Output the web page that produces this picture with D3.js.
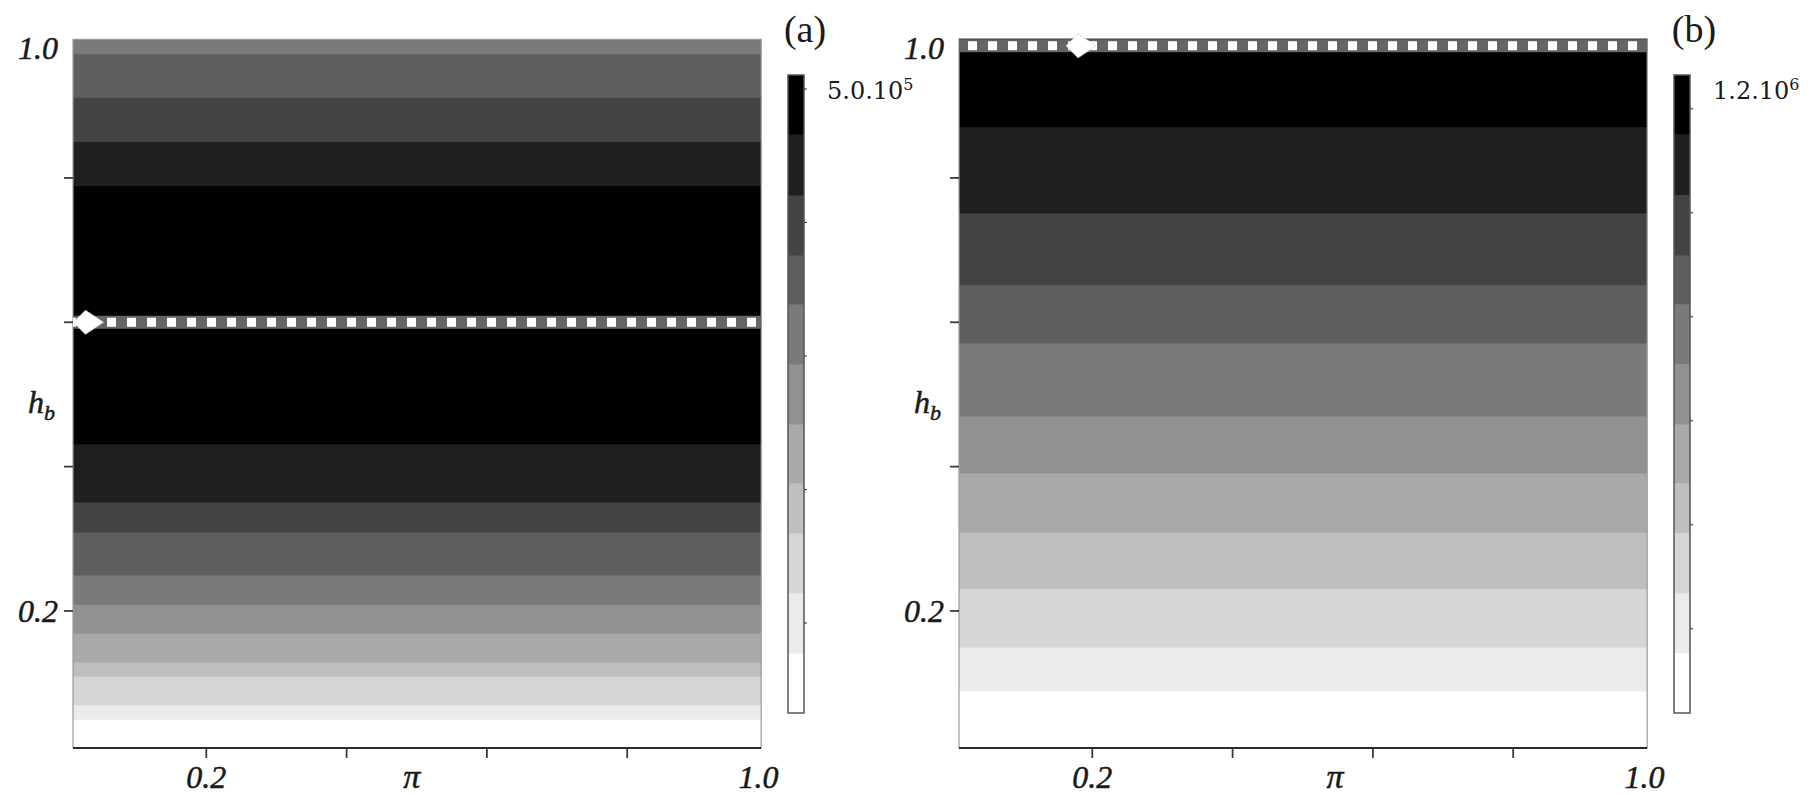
<!DOCTYPE html>
<html>
<head>
<meta charset="utf-8">
<script src="https://cdn.jsdelivr.net/npm/d3@7/dist/d3.min.js"></script>
<style>
  html, body { margin: 0; padding: 0; background: #ffffff; }
  svg { display: block; }
  .ax { font-family: "Liberation Serif", "DejaVu Serif", serif; font-style: italic; fill: #1a1a1a; stroke: #1a1a1a; stroke-width: 0.5; }
  .cb { font-family: "DejaVu Serif", "Liberation Serif", serif; fill: #1a1a1a; }
  .tag { font-family: "Liberation Serif", "DejaVu Serif", serif; fill: #1a1a1a; }
</style>
</head>
<body>
<svg id="chart" width="1816" height="795"></svg>
<script>
// ---------------- data ----------------
const grayLevels = ["#000000", "#1f1f1f", "#434343", "#5e5e5e", "#7a7a7a", "#919191",
                    "#a9a9a9", "#bebebe", "#d6d6d6", "#ebebeb", "#ffffff"];

const xTicks = [0.2, 0.4, 0.6, 0.8];
const yTicks = [0.2, 0.4, 0.6, 0.8];
const xTickLabels = [{ v: 0.2, t: "0.2" }, { v: 1.0, t: "1.0" }];
const yTickLabels = [{ v: 0.2, t: "0.2" }, { v: 1.0, t: "1.0" }];

// panel (a): horizontal contour bands in h_b (lower edge list) and grey level index
const bandEdgesA = [0.010, 0.050, 0.070, 0.110, 0.129, 0.169, 0.209, 0.250, 0.309, 0.351,
                    0.431, 0.790, 0.851, 0.912, 0.972, 0.992];
const bandLevelsA = [10, 9, 8, 7, 6, 5, 4, 3, 2, 1, 0, 1, 2, 3, 4];

// panel (b)
const bandEdgesB = [0.010, 0.089, 0.150, 0.231, 0.309, 0.391, 0.470, 0.571, 0.652, 0.751,
                    0.871, 0.993];
const bandLevelsB = [10, 9, 8, 7, 6, 5, 4, 3, 2, 1, 0];

// optimum lines / markers
const optimumA = { x: 0.032, h: 0.600 };
const optimumB = { x: 0.184, h: 0.983 };
const piLabelA = 0.493;
const piLabelB = 0.546;

// colour bars (value edges bottom -> top, grey level index per band)
const cbEdgesA = [3.26e4, 7.75e4, 1.225e5, 1.674e5, 2.049e5, 2.491e5, 2.94e5, 3.39e5,
                  3.757e5, 4.206e5, 4.663e5, 5.105e5];
const cbTicksA = [1e5, 2e5, 3e5, 4e5, 5e5];
const cbLabelA = ["5.0.10", "5"];

const cbEdgesB = [0.038e6, 0.154e6, 0.269e6, 0.385e6, 0.481e6, 0.594e6, 0.710e6, 0.825e6,
                  0.919e6, 1.035e6, 1.152e6, 1.265e6];
const cbTicksB = [0.2e6, 0.4e6, 0.6e6, 0.8e6, 1.0e6, 1.2e6];
const cbLabelB = ["1.2.10", "6"];
const cbLevels = [10, 9, 8, 7, 6, 5, 4, 3, 2, 1, 0];

// ---------------- drawing ----------------
const svg = d3.select("#chart");
svg.append("rect").attr("width", 1816).attr("height", 795).attr("fill", "#fff");

function panel(cfg) {
  const x = d3.scaleLinear().domain([0, 1]).range([cfg.x0, cfg.x0 + 701.5]);
  const y = d3.scaleLinear().domain([0, 1]).range([755.3, 33.6]);
  const xd = [0.01, 0.991];
  const g = svg.append("g");

  // bands
  const bands = cfg.levels.map((lv, i) => ({ lo: cfg.edges[i], hi: cfg.edges[i + 1], lv }));
  g.selectAll("rect.band").data(bands).join("rect")
    .attr("class", "band")
    .attr("x", x(xd[0])).attr("width", x(xd[1]) - x(xd[0]))
    .attr("y", d => y(d.hi)).attr("height", d => y(d.lo) - y(d.hi) + 0.5)
    .attr("fill", d => grayLevels[d.lv]);

  const top = y(cfg.edges[cfg.edges.length - 1]);
  const bottom = y(cfg.edges[0]);

  // frame (light)
  g.append("path")
    .attr("d", `M${x(xd[0])},${bottom}V${top}H${x(xd[1])}V${bottom}`)
    .attr("fill", "none").attr("stroke", "#9a9a9a").attr("stroke-width", 1.2);

  // optimum strip
  const yo = y(cfg.opt.h);
  g.append("line").attr("x1", x(xd[0])).attr("x2", x(xd[1])).attr("y1", yo).attr("y2", yo)
    .attr("stroke", "#646464").attr("stroke-width", 13);
  g.append("line").attr("x1", x(xd[0])).attr("x2", x(xd[1])).attr("y1", yo).attr("y2", yo)
    .attr("stroke", "#ffffff").attr("stroke-width", 9)
    .attr("stroke-dasharray", "9 11").attr("stroke-dashoffset", cfg.dashOffset);
  const mx = x(cfg.opt.x);
  g.append("path")
    .attr("d", `M${mx - 15},${yo} L${mx - 3},${yo - 12} L${mx + 15},${yo} L${mx - 3},${yo + 12} Z`)
    .attr("fill", "#ffffff").attr("stroke", "#d8d8d8").attr("stroke-width", 0.8);

  // x axis
  g.append("line").attr("x1", x(xd[0])).attr("x2", x(xd[1]))
    .attr("y1", 748).attr("y2", 748).attr("stroke", "#2a2a2a").attr("stroke-width", 2);
  g.selectAll("line.xt").data(xTicks).join("line").attr("class", "xt")
    .attr("x1", d => x(d)).attr("x2", d => x(d)).attr("y1", 748).attr("y2", 758)
    .attr("stroke", "#3a3a3a").attr("stroke-width", 1.8);
  g.selectAll("text.xl").data(xTickLabels).join("text").attr("class", "ax xl")
    .attr("x", d => d.v === 1.0 ? x(0.987) : x(d.v)).attr("y", 788)
    .attr("text-anchor", "middle").attr("font-size", 32).text(d => d.t);
  g.append("text").attr("class", "ax").attr("x", x(cfg.piAt)).attr("y", 788)
    .attr("text-anchor", "middle").attr("font-size", 34).text("π");

  // y axis ticks
  g.selectAll("line.yt").data(yTicks).join("line").attr("class", "yt")
    .attr("x1", x(xd[0]) - 9).attr("x2", x(xd[0])).attr("y1", d => y(d)).attr("y2", d => y(d))
    .attr("stroke", "#3a3a3a").attr("stroke-width", 1.8);
  g.selectAll("text.yl").data(yTickLabels).join("text").attr("class", "ax yl")
    .attr("x", x(xd[0]) - 15).attr("y", d => d.v === 1.0 ? y(0.981) : y(d.v))
    .attr("dy", "0.36em").attr("text-anchor", "end").attr("font-size", 32).text(d => d.t);
  const hb = g.append("text").attr("class", "ax")
    .attr("x", x(xd[0]) - 18).attr("y", y(0.474)).attr("text-anchor", "end").attr("font-size", 32);
  hb.append("tspan").text("h");
  hb.append("tspan").attr("font-size", 22).attr("dy", 7).text("b");

  // panel tag
  svg.append("text").attr("class", "tag").attr("x", cfg.tagX).attr("y", 42)
    .attr("text-anchor", "middle").attr("font-size", 38).text(cfg.tag);

  // colour bar
  const cx = cfg.cbX, cw = 16;
  const cy = d3.scaleLinear().domain([cfg.cbEdges[0], cfg.cbEdges[cfg.cbEdges.length - 1]]).range([713, 75]);
  const cb = cbLevels.map((lv, i) => ({ lo: cfg.cbEdges[i], hi: cfg.cbEdges[i + 1], lv }));
  svg.selectAll(null).data(cb).join("rect")
    .attr("x", cx).attr("width", cw)
    .attr("y", d => cy(d.hi)).attr("height", d => cy(d.lo) - cy(d.hi) + 0.5)
    .attr("fill", d => grayLevels[d.lv]);
  svg.append("rect").attr("x", cx).attr("y", 75).attr("width", cw).attr("height", 638)
    .attr("fill", "none").attr("stroke", "#555").attr("stroke-width", 1.5);
  svg.selectAll(null).data(cfg.cbTicks).join("line")
    .attr("x1", cx + cw).attr("x2", cx + cw + 3).attr("y1", d => cy(d)).attr("y2", d => cy(d))
    .attr("stroke", "#444").attr("stroke-width", 1.2);
  const lab = svg.append("text").attr("class", "cb").attr("x", cx + cw + 23).attr("y", 75 + 15)
    .attr("dy", "0.36em").attr("font-size", 24);
  lab.append("tspan").text(cfg.cbLabel[0]);
  lab.append("tspan").attr("font-size", 16).attr("dy", -9).text(cfg.cbLabel[1]);
}

panel({ x0: 66, edges: bandEdgesA, levels: bandLevelsA, opt: optimumA, dashOffset: 6,
        piAt: piLabelA, tag: "(a)", tagX: 805, cbX: 788, cbEdges: cbEdgesA, cbTicks: cbTicksA,
        cbLabel: cbLabelA });
panel({ x0: 952, edges: bandEdgesB, levels: bandLevelsB, opt: optimumB, dashOffset: 11,
        piAt: piLabelB, tag: "(b)", tagX: 1694, cbX: 1674, cbEdges: cbEdgesB, cbTicks: cbTicksB,
        cbLabel: cbLabelB });
</script>
</body>
</html>
